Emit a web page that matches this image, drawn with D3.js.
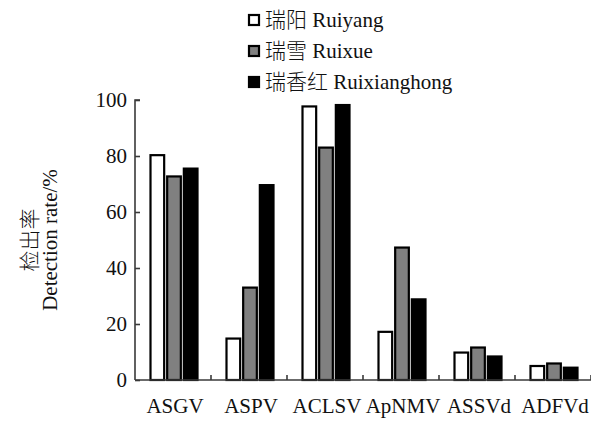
<!DOCTYPE html>
<html>
<head>
<meta charset="utf-8">
<script src="https://cdn.jsdelivr.net/npm/d3@7"></script>
<style>
  html, body { margin: 0; padding: 0; background: #fff; }
  svg { display: block; }
</style>
</head>
<body>
<svg id="chart" width="591" height="421"></svg>
<script>
// Virus / viroid names on the x axis
const categories = ["ASGV", "ASPV", "ACLSV", "ApNMV", "ASSVd", "ADFVd"];
// Cultivars (series) and their legend labels
const seriesKeys = ["ruiyang", "ruixue", "ruixianghong"];
const seriesLabels = ["瑞阳 Ruiyang", "瑞雪 Ruixue", "瑞香红 Ruixianghong"];
const seriesFills = ["#ffffff", "#808080", "#000000"];
// Detection rate (%) per cultivar, in category order
const ruiyang      = [80.3, 14.8, 97.7, 17.2,  9.8, 5.0];
const ruixue       = [72.7, 33.0, 83.0, 47.3, 11.6, 5.9];
const ruixianghong = [75.5, 69.6, 98.2, 28.8,  8.4, 4.4];
// Y-axis tick values
const yTicks = [0, 20, 40, 60, 80, 100];

const serif = "'Liberation Serif', 'Times New Roman', 'DejaVu Serif', serif";
const cjk = "'Noto Sans CJK SC', sans-serif";
const fs = "21px";

const seriesValues = { ruiyang, ruixue, ruixianghong };
const rows = categories.map((c, i) => ({
  cat: c,
  vals: seriesKeys.map(k => ({ key: k, value: seriesValues[k][i] }))
}));

const svg = d3.select("#chart");
const margin = { left: 135, right: 0, top: 100, bottom: 41 };
const W = 591, H = 421;

const x0 = d3.scaleBand().domain(categories)
  .range([margin.left, W - margin.right]).paddingInner(0).paddingOuter(0);
const groupW = 48;
const x1 = d3.scaleBand().domain(seriesKeys).range([0, groupW]).paddingInner(0.12);
const y = d3.scaleLinear().domain([0, 100]).range([H - margin.bottom, margin.top]);

const axisColor = "#3a3a3a";

// Bars
const groups = svg.append("g").selectAll("g").data(rows).join("g")
  .attr("transform", d => `translate(${x0(d.cat) + (x0.bandwidth() - groupW) / 2 + 1},0)`);
groups.selectAll("rect").data(d => d.vals).join("rect")
  .attr("x", d => x1(d.key) + 0.5)
  .attr("width", x1.bandwidth() - 1)
  .attr("y", d => y(d.value))
  .attr("height", d => y(0) - y(d.value))
  .attr("fill", (d, i) => seriesFills[i])
  .attr("stroke", "#000")
  .attr("stroke-width", 2.2);

// Y axis: ticks pointing inward
const yAxis = d3.axisLeft(y).tickValues(yTicks).tickSize(-5).tickPadding(8);
const gy = svg.append("g").attr("transform", `translate(${margin.left},0)`).call(yAxis);
gy.attr("font-family", null).attr("font-size", null);
gy.select(".domain").attr("stroke", axisColor).attr("stroke-width", 1.6)
  .attr("d", `M5,${y(100)}H0V${y(0)}`);
gy.selectAll(".tick line").attr("stroke", axisColor).attr("stroke-width", 1.6);
gy.selectAll(".tick text")
  .style("font-family", serif).style("font-size", fs).attr("fill", "#111");

// X axis: baseline with short upward separator ticks between groups
const gx = svg.append("g").attr("transform", `translate(0,${y(0)})`);
gx.append("line").attr("x1", margin.left).attr("x2", W).attr("y1", 0).attr("y2", 0)
  .attr("stroke", axisColor).attr("stroke-width", 1.6);
gx.selectAll("line.sep").data(categories).join("line").attr("class", "sep")
  .attr("x1", d => x0(d) + x0.bandwidth()).attr("x2", d => x0(d) + x0.bandwidth())
  .attr("y1", 0).attr("y2", -5)
  .attr("stroke", axisColor).attr("stroke-width", 1.6);
gx.selectAll("text").data(categories).join("text")
  .attr("x", d => x0(d) + x0.bandwidth() / 2 + 2)
  .attr("y", 33)
  .attr("text-anchor", "middle")
  .attr("fill", "#111")
  .style("font-family", serif).style("font-size", fs)
  .text(d => d);

// Y axis title (two lines, rotated)
const yTitle = svg.append("g").attr("transform", `translate(0,${(y(0) + y(100)) / 2})`);
yTitle.append("text").attr("transform", "translate(37,0) rotate(-90)")
  .attr("text-anchor", "middle").attr("fill", "#111")
  .style("font-family", cjk).style("font-size", fs).style("font-weight", 300)
  .text("检出率");
yTitle.append("text").attr("transform", "translate(57,0) rotate(-90)")
  .attr("text-anchor", "middle").attr("fill", "#111")
  .style("font-family", serif).style("font-size", fs)
  .text("Detection rate/%");

// Legend
const legend = svg.append("g").attr("transform", "translate(249,0)");
const items = legend.selectAll("g").data(seriesLabels).join("g")
  .attr("transform", (d, i) => `translate(0,${20 + i * 31})`);
items.append("rect").attr("x", 0).attr("y", -5).attr("width", 10).attr("height", 10)
  .attr("fill", (d, i) => seriesFills[i]).attr("stroke", "#000").attr("stroke-width", 2.2);
items.append("text").attr("x", 16).attr("y", 7).attr("fill", "#111")
  .style("font-family", serif).style("font-size", fs)
  .each(function (d) {
    const parts = d.split(" ");
    const t = d3.select(this);
    t.append("tspan").style("font-family", cjk).style("font-weight", 300).text(parts[0]);
    t.append("tspan").text(" " + parts.slice(1).join(" "));
  });
</script>
</body>
</html>
